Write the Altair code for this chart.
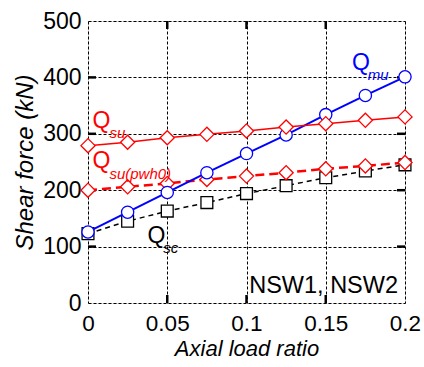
import altair as alt
import pandas as pd

ratio = [0, 0.025, 0.05, 0.075, 0.1, 0.125, 0.15, 0.175, 0.2]
q_mu = [126, 161, 196, 231, 265, 298, 334, 368, 401]
q_su = [279, 285, 293, 299, 305, 312, 318, 324, 330]
q_su_pwh0 = [200, 206, 212, 219, 225, 231, 238, 243, 249]
q_sc = [123, 145, 163, 178, 194, 208, 222, 234, 245]

x_ticks = [0, 0.05, 0.1, 0.15, 0.2]
y_ticks = [0, 100, 200, 300, 400, 500]
x_inner = [0.05, 0.1, 0.15]
y_inner = [100, 200, 300, 400]

# annotation labels
ann_text = ["Q", "su", "Q", "su(pwh0)", "Q", "mu", "Q", "sc", "NSW1, NSW2"]
ann_x = [0.0028, 0.0135, 0.0028, 0.0135, 0.1665, 0.1765, 0.0375, 0.0475, 0.1017]
ann_y = [310, 293, 239, 220, 413, 396, 106, 89, 17]
ann_color = ["#ff0000", "#ff0000", "#ff0000", "#ff0000", "#0000ff", "#0000ff", "#000000", "#000000", "#000000"]
ann_size = [23, 15, 23, 15, 23, 15, 23, 15, 23.5]
ann_style = ["normal", "italic", "normal", "italic", "normal", "italic", "normal", "italic", "normal"]

W, H = 317, 282
FONT = "Liberation Sans"

xscale = alt.Scale(domain=[0, 0.2], nice=False, zero=False)
yscale = alt.Scale(domain=[0, 500], nice=False)

xaxis = alt.Axis(values=x_ticks, format="~g", title="Axial load ratio", domain=False, ticks=False,
                 grid=True, gridDash=[3, 2], gridColor="black", gridWidth=1, gridOpacity=1,
                 labelFont=FONT, labelFontSize=22.5, labelColor="black", labelPadding=9,
                 labelFlush=False,
                 titleFont=FONT, titleFontSize=22, titleFontStyle="italic", titleFontWeight="normal",
                 titleColor="black", titlePadding=4)
yaxis = alt.Axis(values=y_ticks, title="Shear force (kN)", domain=False, ticks=False,
                 grid=True, gridDash=[3, 2], gridColor="black", gridWidth=1, gridOpacity=1,
                 labelFont=FONT, labelFontSize=23, labelColor="black", labelPadding=7,
                 labelFlush=False,
                 titleFont=FONT, titleFontSize=24, titleFontStyle="italic", titleFontWeight="normal",
                 titleColor="black", titlePadding=5)

def series(vals, color, shape, dash, width, size):
    df = pd.DataFrame({"x": ratio, "y": vals})
    base = alt.Chart(df)
    line_kwargs = dict(color=color, strokeWidth=width)
    if dash:
        line_kwargs["strokeDash"] = dash
    line = base.mark_line(**line_kwargs).encode(
        x=alt.X("x:Q", scale=xscale, axis=xaxis),
        y=alt.Y("y:Q", scale=yscale, axis=yaxis),
    )
    pts = base.mark_point(shape=shape, filled=True, fill="white", stroke=color, strokeWidth=1.3,
                          size=size, opacity=1).encode(x="x:Q", y="y:Q")
    return line + pts

sc = series(q_sc, "#000000", "square", [5, 4], 1.5, 140)
pwh = series(q_su_pwh0, "#ff0000", "diamond", [9, 5], 2.5, 200)
mu = series(q_mu, "#0000ff", "circle", None, 2, 150)
su = series(q_su, "#ff0000", "diamond", None, 1.5, 200)

# inward tick marks
yt = pd.DataFrame({"y": y_inner})
xt = pd.DataFrame({"x": x_inner})
tl = alt.Chart(yt).mark_rule(color="black", strokeWidth=2.5).encode(
    y="y:Q", x=alt.value(0), x2=alt.value(8))
tr = alt.Chart(yt).mark_rule(color="black", strokeWidth=2.5).encode(
    y="y:Q", x=alt.value(W - 8), x2=alt.value(W))
tb = alt.Chart(xt).mark_rule(color="black", strokeWidth=2.5).encode(
    x="x:Q", y=alt.value(H - 8), y2=alt.value(H))
tt = alt.Chart(xt).mark_rule(color="black", strokeWidth=2.5).encode(
    x="x:Q", y=alt.value(0), y2=alt.value(8))

ann = pd.DataFrame({"t": ann_text, "x": ann_x, "y": ann_y})
texts = []
for i in range(len(ann_text)):
    texts.append(
        alt.Chart(ann.iloc[[i]]).mark_text(align="left", baseline="alphabetic", font=FONT,
                                           fontSize=ann_size[i], fontStyle=ann_style[i],
                                           color=ann_color[i]).encode(
            x="x:Q", y="y:Q", text="t:N")
    )

chart = alt.layer(tl, tr, tb, tt, sc, pwh, mu, su, *texts).properties(
    width=W, height=H,
    autosize=alt.AutoSizeParams(type="none"),
    padding={"left": 88, "top": 21, "right": 19, "bottom": 64},
).configure_view(stroke="black", strokeWidth=2.5).configure(background="white")

chart.save("out.html", embed_options={"renderer": "svg", "actions": False})
